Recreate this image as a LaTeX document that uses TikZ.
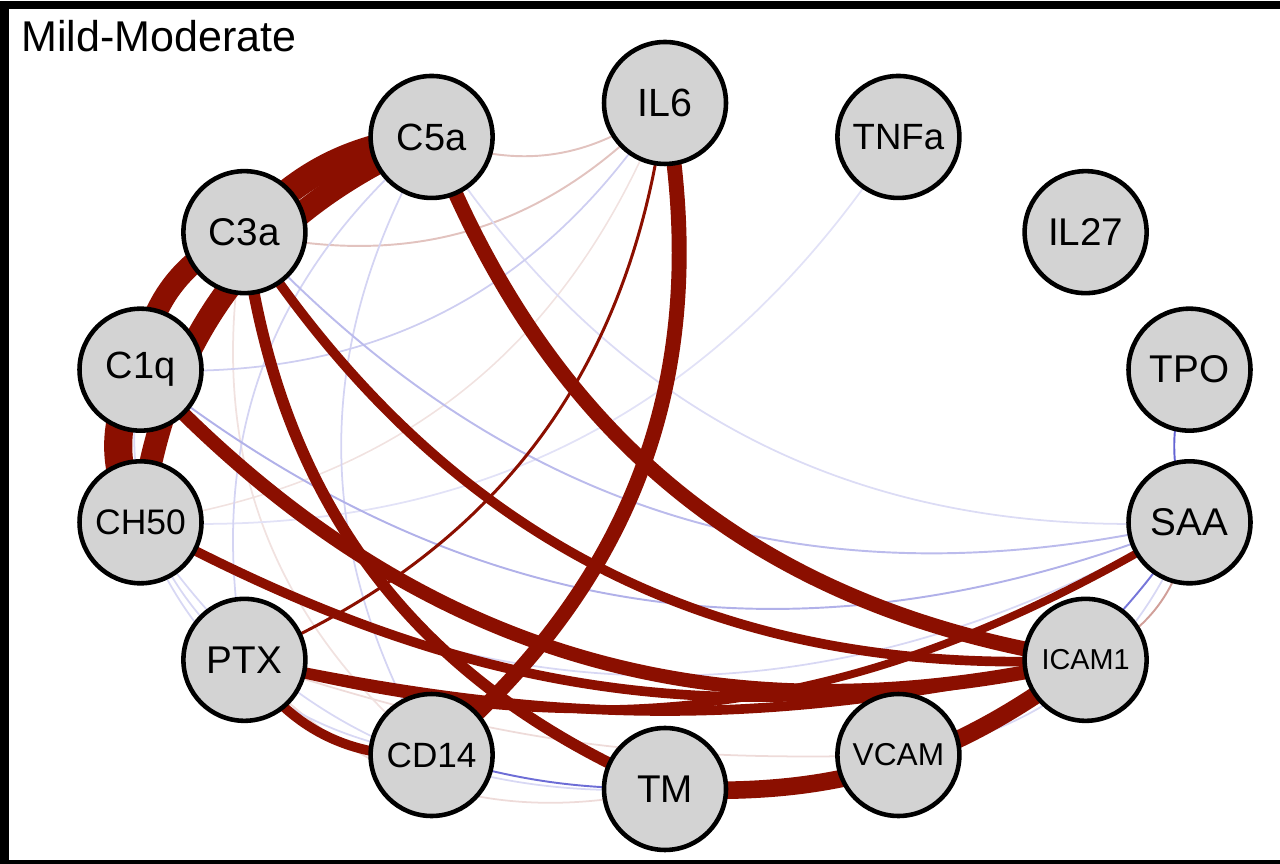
\documentclass[tikz,border=0pt]{standalone}
\usepackage{fontspec}
\setmainfont{Liberation Sans}
\usetikzlibrary{backgrounds}
\definecolor{edgered}{RGB}{139,15,0}
\definecolor{edgeblue}{RGB}{60,60,200}
\definecolor{nodegray}{RGB}{211,211,211}
\begin{document}
\begin{tikzpicture}[x=0.02cm,y=0.02cm,
  marker/.style={circle,draw=black,line width=2.6pt,fill=nodegray,minimum size=2.44cm,inner sep=0pt},
  link/.style={line width=#1pt}]
  \useasboundingbox (0,0) rectangle (1280,864);
  \draw[line width=5.1pt] (4.5,859) rectangle (1290,-0.5);
  \node[anchor=base west,font=\fontsize{24.5}{26}\selectfont] (title) at (15,812) {Mild-Moderate};
  \foreach \name/\fs [count=\k from 0] in {IL6/22.4,TNFa/20.8,IL27/22,TPO/22,SAA/22,ICAM1/16.4,VCAM/18,TM/22,CD14/20,PTX/22,CH50/20.2,C1q/21.6,C3a/22,C5a/21.6}
    \node[marker,font=\fontsize{\fs}{\fs}\selectfont] (\name) at ({665+538*sin(\k*360/14)},{418+343*cos(\k*360/14)}) {\name};
  \begin{scope}[on background layer]
    \foreach \a/\b/\w/\c/\bend in {
      IL6/C5a/1.1/edgered!25/30, IL6/C3a/1.1/edgered!25/30, IL6/CH50/0.9/edgered!12/30,
      SAA/ICAM1/1.1/edgered!40/30, VCAM/PTX/1/edgered!15/10, TM/PTX/1/edgered!15/30, CD14/C3a/1/edgered!12/30,
      TNFa/CH50/1/edgeblue!15/30, SAA/C5a/1/edgeblue!18/30, SAA/CH50/1/edgeblue!20/30, SAA/VCAM/1/edgeblue!20/30,
      CD14/C5a/1/edgeblue!22/30, PTX/C5a/1/edgeblue!22/30, PTX/C1q/1/edgeblue!20/30, CD14/CH50/1/edgeblue!20/30,
      TM/CH50/1/edgeblue!20/30, IL6/C1q/1/edgeblue!25/30,
      SAA/C3a/1.1/edgeblue!35/30, SAA/C1q/1.1/edgeblue!40/30, SAA/TM/1.1/edgeblue!70/30,
      TM/CD14/1.1/edgeblue!75/8, TPO/SAA/1.1/edgeblue!80/-20,
      IL6/PTX/1.7/edgered/30, SAA/PTX/4.5/edgered/23, CD14/PTX/5.5/edgered/30, ICAM1/PTX/5.5/edgered/12,
      ICAM1/CH50/5.5/edgered/20, ICAM1/C3a/5.5/edgered/30, TM/C3a/6.5/edgered/30, ICAM1/C1q/8/edgered/30,
      ICAM1/C5a/8.5/edgered/30, IL6/CD14/8.5/edgered/30, ICAM1/TM/10/edgered/20, CH50/C5a/13/edgered/30,
      C1q/C3a/12.5/edgered/30, C3a/C5a/15/edgered/20, CH50/C1q/16/edgered/30}
      \draw[link=\w,draw=\c] (\a.center) to[bend left=\bend] (\b.center);
  \end{scope}
\end{tikzpicture}
\end{document}
